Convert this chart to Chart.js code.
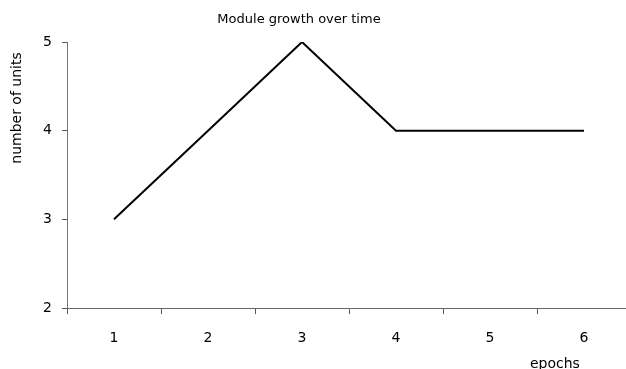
<!DOCTYPE html>
<html>
<head>
<meta charset="utf-8">
<script src="https://cdn.jsdelivr.net/npm/chart.js@4"></script>
<style>
  html, body { margin: 0; padding: 0; background: #fff; overflow: hidden; }
  #wrap { width: 632px; height: 369px; }
</style>
</head>
<body>
<div id="wrap"><canvas id="growthChart" width="632" height="369"></canvas></div>
<script>
// chart data
const epochs = ["1", "2", "3", "4", "5", "6"];
const units = [3, 4, 5, 4, 4, 4];
const yTicks = [2, 3, 4, 5];

const chartTitle = "Module growth over time";
const xTitle = "epochs";
const yTitle = "number of units";

const fontFamily = "'DejaVu Sans', sans-serif";

// title and axis titles sit off-centre in the original, so draw them by hand
const chartTexts = {
    id: "chartTexts",
    afterDraw: function (chart) {
        const ctx = chart.ctx;
        const area = chart.chartArea;
        ctx.save();
        ctx.fillStyle = "#000";
        ctx.textAlign = "center";
        ctx.textBaseline = "middle";

        ctx.font = "13px " + fontFamily;
        ctx.fillText(chartTitle, 299, 20);

        ctx.font = "14px " + fontFamily;
        ctx.fillText(xTitle, area.left + (area.right - area.left) * 0.865, 364);

        ctx.translate(17, 108);
        ctx.rotate(-Math.PI / 2);
        ctx.fillText(yTitle, 0, 0);
        ctx.restore();
    }
};

const ctx = document.getElementById("growthChart").getContext("2d");
new Chart(ctx, {
    type: "line",
    data: {
        labels: epochs,
        datasets: [{
            label: yTitle,
            data: units,
            borderColor: "#000",
            borderWidth: 2,
            pointRadius: 0,
            tension: 0,
            fill: false,
        }]
    },
    options: {
        responsive: false,
        animation: false,
        layout: { padding: { left: 0, right: 1, top: 42, bottom: 0 } },
        plugins: {
            legend: { display: false },
            tooltip: { enabled: false },
            title: { display: false },
        },
        scales: {
            x: {
                type: "category",
                offset: true,
                grid: {
                    offset: true,
                    drawOnChartArea: false,
                    drawTicks: true,
                    tickLength: 6,
                    color: "#555",
                },
                border: { color: "#666", width: 1 },
                ticks: {
                    color: "#000",
                    font: { family: fontFamily, size: 14 },
                    padding: 16,
                    maxRotation: 0,
                },
                afterFit: function (scale) { scale.height = 61; },
            },
            y: {
                type: "linear",
                min: 2,
                max: 5,
                afterBuildTicks: function (scale) {
                    scale.ticks = yTicks.map(v => ({ value: v }));
                },
                grid: {
                    drawOnChartArea: false,
                    drawTicks: true,
                    tickLength: 5,
                    color: "#555",
                },
                border: { color: "#777", width: 1 },
                ticks: {
                    color: "#000",
                    font: { family: fontFamily, size: 14 },
                    padding: 10,
                },
                afterFit: function (scale) { scale.width = 67; },
            },
        },
    },
    plugins: [chartTexts],
});
</script>
</body>
</html>
